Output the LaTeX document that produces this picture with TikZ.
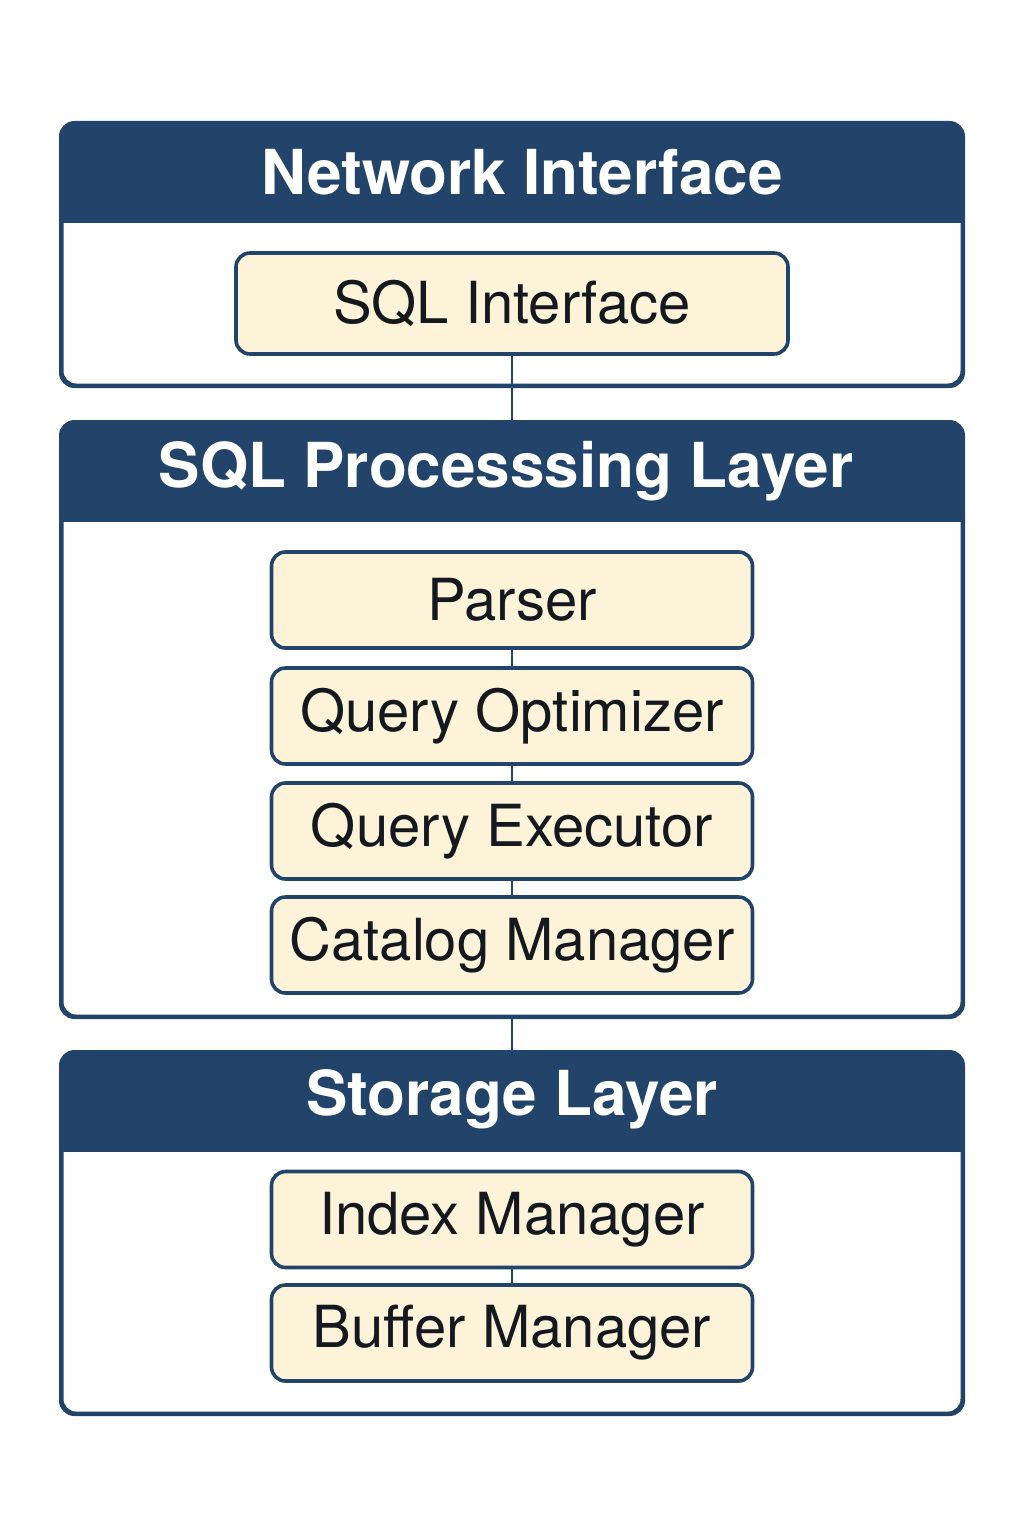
\documentclass[tikz,border=0pt]{standalone}
\usepackage{fontspec}
\setmainfont{TeX Gyre Heros}

\definecolor{navy}{HTML}{22436A}
\definecolor{cream}{HTML}{FDF3D8}
\definecolor{ink}{HTML}{14181F}

\tikzstyle{layer} = [rectangle, draw=navy, line width=1.5pt, rounded corners=7pt, minimum width=450pt, inner sep=0pt]
\tikzstyle{band} = [fill=navy]
\tikzstyle{title} = [text=white, font=\fontsize{31}{36}\selectfont\bfseries]
\tikzstyle{module} = [rectangle, draw=navy, line width=1.8pt, rounded corners=7pt, fill=cream, text=ink, minimum width=240.5pt, minimum height=48pt, inner sep=0pt, font=\fontsize{29}{34}\selectfont]
\tikzstyle{link} = [draw=navy, line width=1.2pt]

\begin{document}
\begin{tikzpicture}[x=0.5pt, y=-0.5pt]

\useasboundingbox[fill=white] (0,0) rectangle (1024,1536);

% layers
\node (netLayer) [layer, minimum height=130.5pt] at (512,254.5) {};
\node (procLayer) [layer, minimum height=296.5pt] at (512,719.5) {};
\node (storeLayer) [layer, minimum height=180pt] at (512,1233) {};

% header bands
\foreach \l in {netLayer, procLayer, storeLayer} {
  \fill[band, rounded corners=7pt] (\l.north west) rectangle ([yshift=-50pt]\l.north east);
  \fill[band] ([yshift=-25pt]\l.north west) rectangle ([yshift=-50pt]\l.north east);
  \draw[draw=navy, line width=1.5pt, rounded corners=7pt] (\l.north west) rectangle (\l.south east);
}

\node (netTitle) [title] at ([xshift=5pt, yshift=-25pt]netLayer.north) {Network Interface};
\node (procTitle) [title] at ([xshift=-3pt, yshift=-25pt]procLayer.north) {SQL Processsing Layer};
\node (storeTitle) [title] at ([yshift=-24pt]storeLayer.north) {Storage Layer};

% modules
\node (sqlIf) [module, minimum width=276pt, minimum height=50.5pt] at (512,303.5) {SQL Interface};

\node (parser) [module] at (512,600) {Parser};
\node (optimizer) [module] at (512,716) {Query Optimizer};
\node (executor) [module] at (512,831) {Query Executor};
\node (catalog) [module] at (512,945) {Catalog Manager};

\node (index) [module] at (512,1219.5) {Index Manager};
\node (buffer) [module] at (512,1333) {Buffer Manager};

% connectors
\draw[link] (sqlIf) -- (procLayer);
\draw[link] (procLayer) -- (storeLayer);
\draw[link] (parser) -- (optimizer);
\draw[link] (optimizer) -- (executor);
\draw[link] (executor) -- (catalog);
\draw[link] (index) -- (buffer);

\end{tikzpicture}
\end{document}
